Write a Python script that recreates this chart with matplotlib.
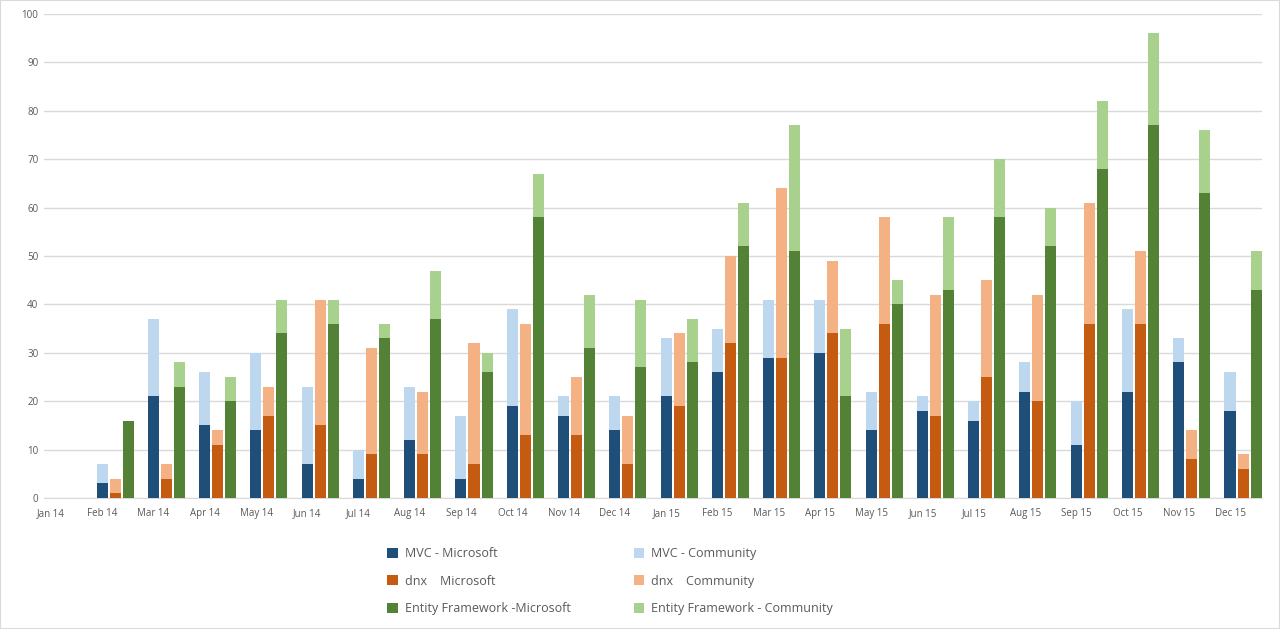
import matplotlib
matplotlib.use("Agg")
import matplotlib.pyplot as plt
from matplotlib.patches import Patch, Rectangle
import numpy as np

months = ["Jan 14", "Feb 14", "Mar 14", "Apr 14", "May 14", "Jun 14", "Jul 14", "Aug 14",
          "Sep 14", "Oct 14", "Nov 14", "Dec 14", "Jan 15", "Feb 15", "Mar 15", "Apr 15",
          "May 15", "Jun 15", "Jul 15", "Aug 15", "Sep 15", "Oct 15", "Nov 15", "Dec 15"]

mvc_ms = [0, 3, 21, 15, 14, 7, 4, 12, 4, 19, 17, 14, 21, 26, 29, 30, 14, 18, 16, 22, 11, 22, 28, 18]
mvc_total = [0, 7, 37, 26, 30, 23, 10, 23, 17, 39, 21, 21, 33, 35, 41, 41, 22, 21, 20, 28, 20, 39, 33, 26]
dnx_ms = [0, 1, 4, 11, 17, 15, 9, 9, 7, 13, 13, 7, 19, 32, 29, 34, 36, 17, 25, 20, 36, 36, 8, 6]
dnx_total = [0, 4, 7, 14, 23, 41, 31, 22, 32, 36, 25, 17, 34, 50, 64, 49, 58, 42, 45, 42, 61, 51, 14, 9]
ef_ms = [0, 16, 23, 20, 34, 36, 33, 37, 26, 58, 31, 27, 28, 52, 51, 21, 40, 43, 58, 52, 68, 77, 63, 43]
ef_total = [0, 16, 28, 25, 41, 41, 36, 47, 30, 67, 42, 41, 37, 61, 77, 35, 45, 58, 70, 60, 82, 96, 76, 51]

mvc_comm = [t - m for t, m in zip(mvc_total, mvc_ms)]
dnx_comm = [t - m for t, m in zip(dnx_total, dnx_ms)]
ef_comm = [t - m for t, m in zip(ef_total, ef_ms)]

labels = ["MVC - Microsoft", "dnx    Microsoft", "Entity Framework -Microsoft",
          "MVC - Community", "dnx    Community", "Entity Framework - Community"]
colors_ms = ["#1f4e79", "#c55a11", "#538135"]
colors_c = ["#bdd7ee", "#f4b183", "#a9d18e"]

plt.rcParams['font.family'] = ['Open Sans', 'DejaVu Sans']

fig = plt.figure(figsize=(12.8, 6.29), dpi=100)
ax = fig.add_axes([44/1280, 131/629, (1262-44)/1280, (498-14)/629])

x = np.arange(len(months))
center = x + 0.25
pitch = 0.254
width = 0.215
series = [(mvc_ms, mvc_comm), (dnx_ms, dnx_comm), (ef_ms, ef_comm)]
for k, (ms, cm) in enumerate(series):
    pos = center + (k - 1) * pitch
    ax.bar(pos, ms, width=width, color=colors_ms[k], linewidth=0, zorder=3)
    ax.bar(pos, cm, bottom=ms, width=width, color=colors_c[k], linewidth=0, zorder=3)

ax.set_ylim(0, 100)
ax.set_xlim(-0.137, 23.62)
ax.set_yticks(range(0, 101, 10))
ax.set_xticks(x)
ax.set_xticklabels(months)
ax.grid(axis='y', color='#d9d9d9', linewidth=1, zorder=0)
ax.set_axisbelow(True)
for s in ['top', 'right', 'left']:
    ax.spines[s].set_visible(False)
ax.spines['bottom'].set_color('#d9d9d9')
ax.tick_params(axis='both', length=0, labelsize=7, colors='#595959')
ax.tick_params(axis='y', pad=4)
ax.tick_params(axis='x', pad=7)

handles = [Patch(facecolor=c, edgecolor='none') for c in colors_ms + colors_c]
leg = fig.legend(handles, labels, ncol=2, loc='upper left',
                 bbox_to_anchor=(376/1280, 1 - 536/629), frameon=False,
                 fontsize=9, labelcolor='#595959', handlelength=0.85, handleheight=0.85,
                 handletextpad=0.55, columnspacing=5.05, labelspacing=1.15)

fig.patches.append(Rectangle((0, 0), 1, 1, transform=fig.transFigure, fill=False,
                             edgecolor='#d9d9d9', linewidth=1.5))

fig.savefig("out.png", dpi=100)
